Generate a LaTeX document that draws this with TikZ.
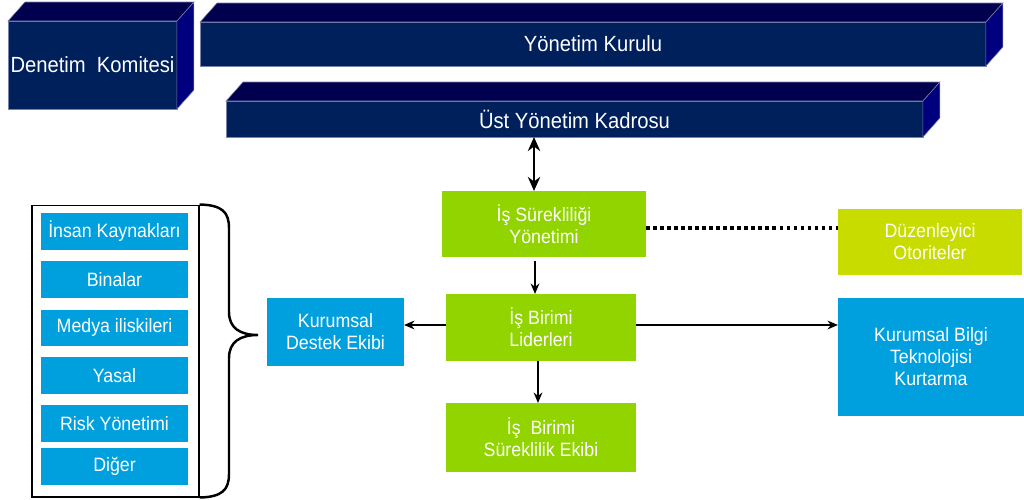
\documentclass[tikz,border=0pt]{standalone}
\usepackage{fontspec}
\setmainfont{Liberation Sans}[FakeStretch=0.92]
\usetikzlibrary{arrows.meta}
\definecolor{lacivert}{RGB}{0,32,91}
\definecolor{lacustu}{RGB}{0,0,78}
\definecolor{lacyan}{RGB}{0,0,126}
\definecolor{kenar}{RGB}{120,130,170}
\definecolor{yesil}{RGB}{146,212,0}
\definecolor{limon}{RGB}{200,220,0}
\definecolor{mavi}{RGB}{0,160,222}
\tikzstyle{blok}=[fill=lacivert,draw=kenar,line width=0.3pt,text=white,inner sep=0pt,outer sep=0pt,font=\fontsize{12.5}{14}\selectfont]
\tikzstyle{kutu}=[text=white,inner sep=0pt,outer sep=0pt,align=center,font=\fontsize{11}{12.5}\selectfont]
\tikzstyle{liste}=[kutu,fill=mavi,minimum width=2.94cm,minimum height=0.74cm]
\tikzstyle{ok}=[line width=0.8pt,-{Stealth[length=6pt,width=5pt]}]

\begin{document}
\begin{tikzpicture}[x=0.02cm,y=-0.02cm]
\useasboundingbox (0,0) rectangle (1024,500);
\node[blok,minimum width=3.38cm,minimum height=1.76cm] at (92.5,65) (denetim) {Denetim\ \ Komitesi};
\node[blok,minimum width=15.72cm,minimum height=0.88cm] at (593,44) (kurul) {Yönetim Kurulu};
\node[blok,minimum width=13.94cm,minimum height=0.72cm] at (574.5,119) (ust) {Üst Yönetim Kadrosu};
\foreach \n in {denetim,kurul,ust} {
  \filldraw[fill=lacustu,draw=kenar,line width=0.3pt] (\n.north west) -- ++(17,-19) -- ([shift={(17,-19)}]\n.north east) -- (\n.north east) -- cycle;
  \filldraw[fill=lacyan,draw=kenar,line width=0.3pt] (\n.north east) -- ++(17,-19) -- ([shift={(17,-19)}]\n.south east) -- (\n.south east) -- cycle;
}
\node[kutu,fill=yesil,minimum width=4.08cm,minimum height=1.32cm] at (544,224) (isy) {İş Sürekliliği\\Yönetimi};
\node[kutu,fill=limon,minimum width=3.68cm,minimum height=1.32cm] at (930,242) (duz) {Düzenleyici\\Otoriteler};
\node[kutu,fill=yesil,minimum width=3.8cm,minimum height=1.34cm] at (541,327.5) (ibl) {İş Birimi\\Liderleri};
\node[kutu,fill=yesil,minimum width=3.8cm,minimum height=1.38cm] at (541,437.5) (ibs) {İş\ \ Birimi\\Süreklilik Ekibi};
\node[kutu,fill=mavi,minimum width=3.72cm,minimum height=2.36cm] at (931,357) (kbt) {Kurumsal Bilgi\\Teknolojisi\\Kurtarma};
\node[kutu,fill=mavi,minimum width=2.74cm,minimum height=1.36cm] at (335.5,332) (kde) {Kurumsal\\Destek Ekibi};
\node[draw,line width=0.6pt,minimum width=3.34cm,minimum height=5.84cm,inner sep=0pt] at (115.5,351) (grup) {};
\node[liste] at (114.5,231.5) (ik) {İnsan Kaynakları};
\node[liste] at (114.5,279.5) (bina) {Binalar};
\node[liste] at (114.5,328) (medya) {Medya iliskileri};
\node[liste] at (114.5,375.5) (yasal) {Yasal};
\node[liste] at (114.5,423.5) (risk) {Risk Yönetimi};
\node[liste] at (114.5,466) (diger) {Diğer};
\draw[line width=1.4pt] (grup.north east) .. controls (222,205) and (229,212) .. (229,228) -- (229,312) .. controls (229,328) and (240,335) .. (258,335) .. controls (240,335) and (229,342) .. (229,358) -- (229,474) .. controls (229,490) and (222,497) .. (grup.south east);
\draw[line width=1.3pt,{Stealth[length=8pt,width=7pt]}-{Stealth[length=8pt,width=7pt]}] ([xshift=-0.2cm]isy.north) -- ([xshift=-0.2cm]isy.north |- ust.south);
\draw[ok] ([xshift=-0.18cm,yshift=-0.08cm]isy.south) -- ([xshift=-0.18cm]isy.south |- ibl.north);
\draw[ok] ([xshift=-0.06cm]ibl.south) -- ([xshift=-0.06cm]ibs.north);
\draw[ok] ([yshift=0.05cm]ibl.east) -- ([yshift=0.05cm]ibl.east -| kbt.west);
\draw[ok] ([yshift=0.05cm]ibl.west) -- ([yshift=0.05cm]ibl.west -| kde.east);
\draw[line width=2pt,dotted] ([yshift=-0.08cm]isy.east) -- ([yshift=-0.08cm]isy.east -| duz.west);
\end{tikzpicture}
\end{document}
